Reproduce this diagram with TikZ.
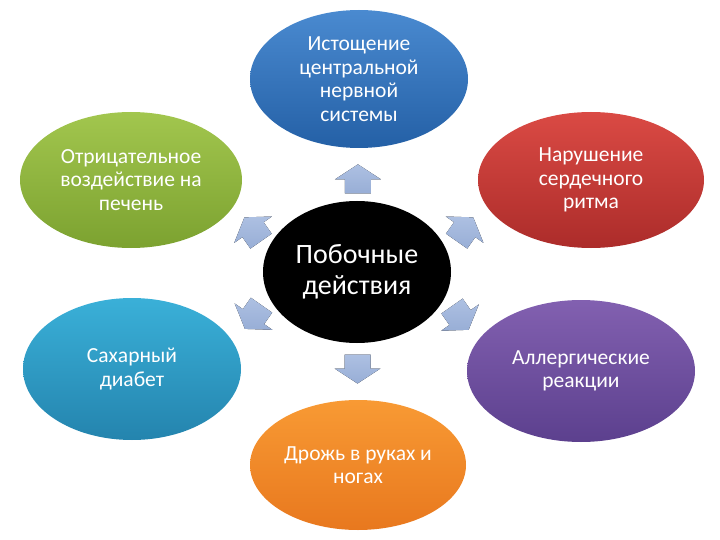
\documentclass[tikz,border=0pt]{standalone}
\usepackage{fontspec}
\setmainfont{Carlito}
\usetikzlibrary{shapes.geometric,calc}
\definecolor{arrowtop}{HTML}{ADC0E2}
\definecolor{arrowbot}{HTML}{98AED6}
\definecolor{blueT}{RGB}{74,138,208}
\definecolor{blueB}{RGB}{36,96,166}
\definecolor{greenT}{RGB}{162,198,78}
\definecolor{greenB}{RGB}{124,162,48}
\definecolor{redT}{RGB}{218,74,68}
\definecolor{redB}{RGB}{172,44,42}
\definecolor{tealT}{RGB}{58,176,216}
\definecolor{tealB}{RGB}{36,132,174}
\definecolor{purpT}{RGB}{130,96,176}
\definecolor{purpB}{RGB}{92,64,142}
\definecolor{orT}{RGB}{248,154,52}
\definecolor{orB}{RGB}{232,120,30}
\tikzset{
  bubble/.style={ellipse, inner sep=0pt, align=center, text=white,
    font=\fontsize{21.5}{23.5}\selectfont},
  barrow/.pic={
    \fill[top color=arrowtop, bottom color=arrowbot]
      (0pt,15pt) -- (23pt,0pt) -- (13pt,0pt) -- (13pt,-14pt) -- (-13pt,-14pt)
      -- (-13pt,0pt) -- (-23pt,0pt) -- cycle;}
}
\begin{document}
\begin{tikzpicture}[x=1pt,y=-1pt]
\useasboundingbox (0,0) rectangle (720,540);
% outer nodes
\node[bubble, minimum width=218pt, minimum height=138pt,
  top color=blueT, bottom color=blueB]
  (t) at (359,79) {Истощение\\центральной\\нервной\\системы};
\node[bubble, minimum width=222pt, minimum height=136pt,
  top color=greenT, bottom color=greenB]
  (ul) at (131,180) {Отрицательное\\воздействие на\\печень};
\node[bubble, minimum width=226pt, minimum height=136pt,
  top color=redT, bottom color=redB]
  (ur) at (591,180) {Нарушение\\сердечного\\ритма};
\node[bubble, minimum width=218pt, minimum height=142pt,
  top color=tealT, bottom color=tealB]
  (ll) at (132,369) {Сахарный\\диабет};
\node[bubble, minimum width=228pt, minimum height=142pt,
  top color=purpT, bottom color=purpB]
  (lr) at (581,371) {Аллергические\\реакции};
\node[bubble, minimum width=216pt, minimum height=130pt,
  top color=orT, bottom color=orB]
  (b) at (358,465) {Дрожь в руках и\\ногах};
% center
\node[ellipse, fill=black, inner sep=0pt, minimum width=188pt, minimum height=142pt,
  text=white, align=center, font=\fontsize{28}{31}\selectfont]
  (c) at (357,272) {Побочные\\действия};
% arrows
\pic[rotate=0] at ($(c)!0.48!(t)$) {barrow};
\pic[rotate=180] at ($(c)!0.5!(b)$) {barrow};
\pic[rotate=35] at ($(c)!0.46!(ul)$) {barrow};
\pic[rotate=-35] at ($(c)!0.46!(ur)$) {barrow};
\pic[rotate=145] at ($(c)!0.46!(ll)$) {barrow};
\pic[rotate=-145] at ($(c)!0.46!(lr)$) {barrow};
\end{tikzpicture}
\end{document}
